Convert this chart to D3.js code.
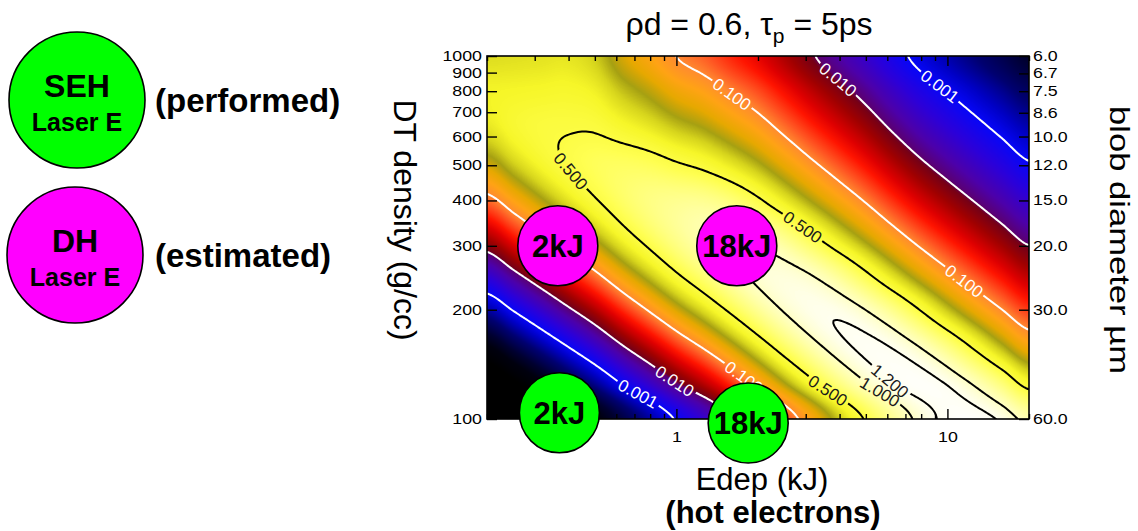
<!DOCTYPE html>
<html>
<head>
<meta charset="utf-8">
<title>ρd = 0.6, τp = 5ps</title>
<script src="https://cdn.jsdelivr.net/npm/d3@7/dist/d3.min.js"></script>
<style>
  html, body { margin: 0; padding: 0; background: #ffffff; }
  svg { display: block; font-family: "Liberation Sans", Arial, Helvetica, sans-serif; }
</style>
</head>
<body>
<svg id="chart" width="1138" height="531"></svg>
<script>
// ---------------- data ----------------
// Tabulated field: columns = deposited energy (kJ), rows = DT density (g/cc)
const edepKJ = [0.2, 0.251, 0.316, 0.398, 0.501, 0.631, 0.794, 1, 1.259, 1.585, 1.995,
                2.512, 3.162, 3.981, 5.012, 6.31, 7.943, 10, 12.59, 15.85, 19.95];
const densityGcc = [100, 125.9, 158.5, 199.5, 251.2, 316.2, 398.1, 501.2, 631, 794.3, 1000];

// log10 of the plotted quantity, one row per density (100 g/cc first)
const zLog = [
  [-7.52, -6.77, -6.05, -5.37, -4.73, -4.06, -3.49, -2.955, -2.507, -2.054, -1.611, -1.189, -0.826, -0.523, -0.280, -0.096, 0.031, 0.099, 0.110, 0.065, -0.037],
  [-5.99, -5.32, -4.68, -4.09, -3.53, -2.95, -2.47, -2.015, -1.642, -1.273, -0.922, -0.603, -0.342, -0.141, -0.001, 0.081, 0.105, 0.071, -0.020, -0.168, -0.372],
  [-4.64, -4.05, -3.50, -2.99, -2.51, -2.03, -1.63, -1.262, -0.963, -0.678, -0.420, -0.203, -0.045, 0.054, 0.092, 0.072, -0.007, -0.143, -0.336, -0.566, -0.802],
  [-3.47, -2.97, -2.51, -2.08, -1.69, -1.30, -0.977, -0.695, -0.470, -0.269, -0.104, 0.011, 0.067, 0.063, -0.001, -0.123, -0.304, -0.526, -0.754, -0.990, -1.232],
  [-2.50, -2.08, -1.70, -1.355, -1.044, -0.748, -0.512, -0.313, -0.163, -0.046, 0.026, 0.039, -0.007, -0.114, -0.280, -0.486, -0.709, -0.938, -1.172, -1.414, -1.662],
  [-1.71, -1.37, -1.075, -0.816, -0.589, -0.386, -0.233, -0.118, -0.042, -0.008, -0.030, -0.120, -0.267, -0.449, -0.650, -0.876, -1.114, -1.350, -1.590, -1.838, -2.092],
  [-1.10, -0.852, -0.638, -0.462, -0.319, -0.209, -0.140, -0.109, -0.107, -0.157, -0.268, -0.427, -0.607, -0.804, -1.020, -1.266, -1.519, -1.762, -2.008, -2.262, -2.522],
  [-0.685, -0.517, -0.387, -0.295, -0.235, -0.218, -0.233, -0.283, -0.339, -0.437, -0.568, -0.747, -0.947, -1.159, -1.390, -1.656, -1.924, -2.174, -2.426, -2.686, -2.952],
  [-0.452, -0.368, -0.322, -0.309, -0.313, -0.369, -0.433, -0.523, -0.599, -0.722, -0.868, -1.067, -1.287, -1.514, -1.760, -2.046, -2.329, -2.586, -2.844, -3.110, -3.382],
  [-0.406, -0.396, -0.387, -0.379, -0.413, -0.529, -0.633, -0.763, -0.859, -1.007, -1.168, -1.387, -1.627, -1.869, -2.130, -2.436, -2.734, -2.998, -3.262, -3.534, -3.812],
  [-0.474, -0.466, -0.457, -0.449, -0.513, -0.689, -0.833, -1.003, -1.119, -1.292, -1.468, -1.707, -1.967, -2.224, -2.500, -2.826, -3.139, -3.410, -3.680, -3.958, -4.242]
];

const contourLevels = [0.001, 0.01, 0.1, 0.5, 1.0, 1.2];
const contourText   = ["0.001", "0.010", "0.100", "0.500", "1.000", "1.200"];

// where each contour label sits (energy kJ, density g/cc, level)
const labelEdep    = [9.3, 0.72, 3.93, 0.98, 1.61, 11.6, 1.8, 0.39, 2.92, 3.67, 5.75, 6.27];
const labelDensity = [820, 118, 859, 126, 796, 241, 131, 470, 336, 122, 121, 130.5];
const labelLevel   = [0.001, 0.001, 0.01, 0.01, 0.1, 0.1, 0.1, 0.5, 0.5, 0.5, 1.0, 1.2];

const densityTicks   = [100, 200, 300, 400, 500, 600, 700, 800, 900, 1000];
const diameterTicks  = [6.0, 6.7, 7.5, 8.6, 10.0, 12.0, 15.0, 20.0, 30.0, 60.0];
const edepMajorTicks = [1, 10];
const edepMinorTicks = [0.2, 0.3, 0.4, 0.5, 0.6, 0.7, 0.8, 0.9, 2, 3, 4, 5, 6, 7, 8, 9, 20];

// shots: laser energy label at (deposited energy, density)
const shotEdep    = [0.365, 1.67, 0.37, 1.84];
const shotDensity = [300, 300, 104, 97.5];
const shotText    = ["2kJ", "18kJ", "2kJ", "18kJ"];
const shotKind    = ["DH", "DH", "SEH", "SEH"];

// colour table over log10 of the quantity
const colorStopT   = [-5.2, -4.6, -4.2, -3.7, -3.3, -3.0, -2.6, -2.25, -2.03, -1.95, -1.75, -1.5, -1.35, -1.15, -1.0, -0.85, -0.72, -0.6, -0.5, -0.4, -0.25, -0.1, 0.0, 0.08, 0.12];
const colorStopHex = ["#000000", "#00000e", "#000030", "#000070", "#0000c4", "#0606f8", "#2c00d8", "#4c00aa", "#5a0074", "#760016", "#a00000", "#e00000", "#ff1400", "#ff5522", "#ff8a30", "#ffa314", "#e6a800", "#a6a012", "#d6d41c", "#f6f628", "#ffff52", "#ffff94", "#ffffc4", "#fffff0", "#ffffff"];

const kindFill = { SEH: "#00ff00", DH: "#ff00ff" };

// ---------------- scales ----------------
const P = { left: 487, right: 1029, top: 56, bottom: 419 };
const x = d3.scaleLog().domain([0.2, 20]).range([P.left, P.right]);
const y = d3.scaleLog().domain([100, 1000]).range([P.bottom, P.top]);
const yDiam = d3.scaleLog().domain([60, 6]).range([P.bottom, P.top]);   // d = 0.6 g/cm2 / rho

const colIdx = d3.scaleLinear().domain(edepKJ.map(Math.log10)).range(d3.range(edepKJ.length)).clamp(true);
const rowIdx = d3.scaleLinear().domain(densityGcc.map(Math.log10)).range(d3.range(densityGcc.length)).clamp(true);

const nI = edepKJ.length, nJ = densityGcc.length;
function cell(i, j) {
  return zLog[Math.max(0, Math.min(nJ - 1, j))][Math.max(0, Math.min(nI - 1, i))];
}
function catmull(p0, p1, p2, p3, t) {
  return p1 + 0.5 * t * (p2 - p0 + t * (2 * p0 - 5 * p1 + 4 * p2 - p3 + t * (3 * (p1 - p2) + p3 - p0)));
}
// smooth (bicubic) lookup of the table at a screen position
function fieldAt(px, py) {
  const fi = colIdx(Math.log10(x.invert(px)));
  const fj = rowIdx(Math.log10(y.invert(py)));
  const i = Math.min(Math.floor(fi), nI - 2), j = Math.min(Math.floor(fj), nJ - 2);
  const tx = fi - i, ty = fj - j;
  const r = [];
  for (let m = -1; m <= 2; m++) {
    r.push(catmull(cell(i - 1, j + m), cell(i, j + m), cell(i + 1, j + m), cell(i + 2, j + m), tx));
  }
  return catmull(r[0], r[1], r[2], r[3], ty);
}

const colorT = d3.scaleLinear().domain(colorStopT).range(colorStopHex).interpolate(d3.interpolateRgb).clamp(true);
const LUTN = 1400, tLo = colorStopT[0], tHi = colorStopT[colorStopT.length - 1];
const lut = d3.range(LUTN).map(k => d3.rgb(colorT(tLo + (tHi - tLo) * k / (LUTN - 1))));

// ---------------- drawing ----------------
const svg = d3.select("#chart");
const defs = svg.append("defs");
defs.append("clipPath").attr("id", "plotClip")
  .append("rect").attr("x", P.left).attr("y", P.top)
  .attr("width", P.right - P.left).attr("height", P.bottom - P.top);

// colour map raster
const W = P.right - P.left, H = P.bottom - P.top;
const canvas = document.createElement("canvas");
canvas.width = W; canvas.height = H;
const ctx = canvas.getContext("2d");
const img = ctx.createImageData(W, H);
for (let cy = 0; cy < H; cy++) {
  for (let cx = 0; cx < W; cx++) {
    const t = fieldAt(P.left + cx + 0.5, P.top + cy + 0.5);
    let k = Math.round((t - tLo) / (tHi - tLo) * (LUTN - 1));
    k = Math.max(0, Math.min(LUTN - 1, k));
    const c = lut[k], o = (cy * W + cx) * 4;
    img.data[o] = c.r; img.data[o + 1] = c.g; img.data[o + 2] = c.b; img.data[o + 3] = 255;
  }
}
ctx.putImageData(img, 0, 0);
svg.append("image").attr("x", P.left).attr("y", P.top).attr("width", W).attr("height", H)
  .attr("preserveAspectRatio", "none").attr("href", canvas.toDataURL());

// contour lines
const step = 2, margin = 4;
const gx0 = P.left - margin, gy0 = P.top - margin;
const nx = Math.ceil((W + 2 * margin) / step), ny = Math.ceil((H + 2 * margin) / step);
const values = new Float64Array(nx * ny);
for (let r = 0; r < ny; r++) for (let c = 0; c < nx; c++) {
  values[r * nx + c] = fieldAt(gx0 + (c + 0.5) * step, gy0 + (r + 0.5) * step);
}
const sets = d3.contours().size([nx, ny]).thresholds(contourLevels.map(Math.log10))(values);
const toPx = p => [gx0 + p[0] * step, gy0 + p[1] * step];
const path = d3.geoPath(d3.geoTransform({
  point(px, py) { this.stream.point(gx0 + px * step, gy0 + py * step); }
}));

// labels along the lines, with a gap cut into the line
const mask = defs.append("mask").attr("id", "labelGaps").attr("maskUnits", "userSpaceOnUse")
  .attr("x", 0).attr("y", 0).attr("width", 1138).attr("height", 531);
mask.append("rect").attr("x", 0).attr("y", 0).attr("width", 1138).attr("height", 531).attr("fill", "#fff");

const labels = [];
labelLevel.forEach((lv, n) => {
  const k = contourLevels.indexOf(lv);
  const tx = x(labelEdep[n]), ty = y(labelDensity[n]);
  let best = null, bd = Infinity;
  sets[k].coordinates.forEach(poly => poly.forEach(ring => ring.forEach((p, idx) => {
    const q = toPx(p);
    const dd = (q[0] - tx) ** 2 + (q[1] - ty) ** 2;
    if (dd < bd) { bd = dd; best = { ring, idx, q }; }
  })));
  if (!best) return;
  const m = best.ring.length;
  const a = toPx(best.ring[(best.idx - 4 + m) % m]), b = toPx(best.ring[(best.idx + 4) % m]);
  let ang = Math.atan2(b[1] - a[1], b[0] - a[0]) * 180 / Math.PI;
  if (ang > 90) ang -= 180;
  if (ang < -90) ang += 180;
  labels.push({ px: best.q[0], py: best.q[1], ang, text: contourText[k], white: lv < 0.5 });
  mask.append("rect").attr("x", -24).attr("y", -7).attr("width", 48).attr("height", 14)
    .attr("fill", "#000")
    .attr("transform", `translate(${best.q[0]},${best.q[1]}) rotate(${ang})`);
});

const plotG = svg.append("g").attr("clip-path", "url(#plotClip)");
plotG.append("g").attr("mask", "url(#labelGaps)")
  .selectAll("path").data(sets).join("path")
  .attr("d", path)
  .attr("fill", "none")
  .attr("stroke", (d, i) => contourLevels[i] < 0.5 ? "#ffffff" : "#000000")
  .attr("stroke-width", 2)
  .attr("stroke-linejoin", "round");

plotG.append("g").selectAll("text").data(labels).join("text")
  .attr("transform", d => `translate(${d.px},${d.py}) rotate(${d.ang})`)
  .attr("text-anchor", "middle").attr("dy", "0.36em")
  .attr("font-size", 17)
  .attr("fill", d => d.white ? "#ffffff" : "#1a1a1a")
  .text(d => d.text);

// frame and axes
svg.append("rect").attr("x", P.left).attr("y", P.top).attr("width", W).attr("height", H)
  .attr("fill", "none").attr("stroke", "#000").attr("stroke-width", 1.6);

// tick labels are set in a slightly widened face
function styleAxis(g) {
  g.select(".domain").remove();
  g.selectAll(".tick line").attr("stroke", "#000").attr("stroke-width", 1.4);
  g.selectAll("text").attr("font-size", 14).attr("fill", "#000")
    .attr("font-family", "'Liberation Sans', Arial, sans-serif")
    .each(function () {
      const w = this.getComputedTextLength();
      if (w > 0) d3.select(this).attr("textLength", w * 1.27).attr("lengthAdjust", "spacingAndGlyphs");
    });
}
svg.append("g").attr("transform", `translate(0,${P.bottom})`)
  .call(d3.axisBottom(x).tickValues(edepMajorTicks).tickSize(-10).tickPadding(13).tickFormat(d3.format("d")))
  .call(styleAxis);
svg.append("g").attr("transform", `translate(0,${P.bottom})`)
  .call(d3.axisBottom(x).tickValues(edepMinorTicks).tickSize(-5).tickFormat(""))
  .call(styleAxis);
svg.append("g").attr("transform", `translate(0,${P.top})`)
  .call(d3.axisTop(x).tickValues(edepMajorTicks).tickSize(-10).tickFormat(""))
  .call(styleAxis);
svg.append("g").attr("transform", `translate(0,${P.top})`)
  .call(d3.axisTop(x).tickValues(edepMinorTicks).tickSize(-5).tickFormat(""))
  .call(styleAxis);
svg.append("g").attr("transform", `translate(${P.left},0)`)
  .call(d3.axisLeft(y).tickValues(densityTicks).tickSize(-10).tickPadding(5).tickFormat(d3.format("d")))
  .call(styleAxis);
svg.append("g").attr("transform", `translate(${P.right},0)`)
  .call(d3.axisRight(yDiam).tickValues(diameterTicks).tickSize(-10).tickPadding(4).tickFormat(d3.format(".1f")))
  .call(styleAxis);

// shots
const shots = svg.append("g").selectAll("g").data(shotText.map((t, i) => i)).join("g")
  .attr("transform", i => `translate(${x(shotEdep[i])},${y(shotDensity[i])})`);
shots.append("circle").attr("r", 40)
  .attr("fill", i => kindFill[shotKind[i]]).attr("stroke", "#000").attr("stroke-width", 1.6);
shots.append("text").attr("text-anchor", "middle").attr("y", 11)
  .attr("font-size", 31).attr("font-weight", "bold").attr("fill", "#000")
  .text(i => shotText[i]);

// titles
const title = svg.append("text").attr("x", 749).attr("y", 35).attr("text-anchor", "middle")
  .attr("font-size", 32).attr("fill", "#000");
title.append("tspan").text("ρd = 0.6, τ");
title.append("tspan").attr("dy", 8).attr("font-size", 21).text("p");
title.append("tspan").attr("dy", -8).text(" = 5ps");

svg.append("text").attr("transform", "translate(394,220) rotate(90)")
  .attr("text-anchor", "middle").attr("font-size", 32).attr("fill", "#000")
  .text("DT density (g/cc)");
svg.append("text").attr("transform", "translate(1110,240) rotate(90)")
  .attr("text-anchor", "middle").attr("font-size", 28).attr("fill", "#000")
  .attr("textLength", 268).attr("lengthAdjust", "spacingAndGlyphs")
  .text("blob diameter µm");
svg.append("text").attr("x", 762).attr("y", 490).attr("text-anchor", "middle")
  .attr("font-size", 31).attr("fill", "#000").text("Edep (kJ)");
svg.append("text").attr("x", 773).attr("y", 523).attr("text-anchor", "middle")
  .attr("font-size", 31).attr("font-weight", "bold").attr("fill", "#000").text("(hot electrons)");

// legend
const legend = [
  { kind: "SEH", cx: 77, cy: 100, note: "(performed)" },
  { kind: "DH",  cx: 75, cy: 255, note: "(estimated)" }
];
const lg = svg.append("g").selectAll("g").data(legend).join("g");
lg.append("circle").attr("cx", d => d.cx).attr("cy", d => d.cy).attr("r", 68)
  .attr("fill", d => kindFill[d.kind]).attr("stroke", "#000").attr("stroke-width", 1.6);
lg.append("text").attr("x", d => d.cx).attr("y", d => d.cy - 3).attr("text-anchor", "middle")
  .attr("font-size", 32).attr("font-weight", "bold").text(d => d.kind);
lg.append("text").attr("x", d => d.cx).attr("y", d => d.cy + 31).attr("text-anchor", "middle")
  .attr("font-size", 25).attr("font-weight", "bold").text("Laser E");
lg.append("text").attr("x", 155).attr("y", d => d.cy + 12)
  .attr("font-size", 33).attr("font-weight", "bold").text(d => d.note);
</script>
</body>
</html>
